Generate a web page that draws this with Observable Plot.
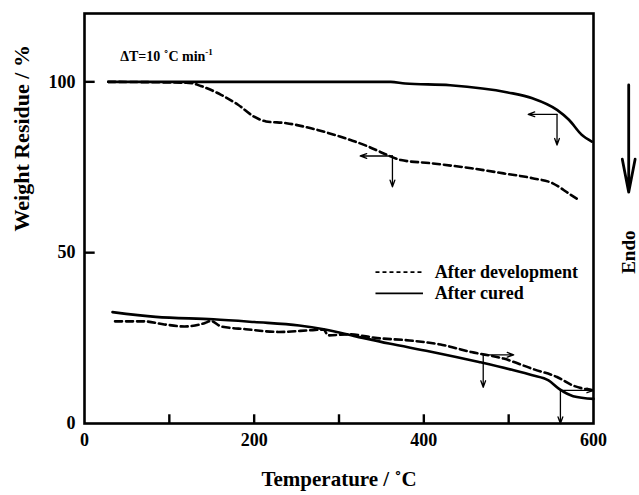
<!DOCTYPE html>
<html><head><meta charset="utf-8">
<script src="https://cdn.jsdelivr.net/npm/d3@7"></script>
<script src="https://cdn.jsdelivr.net/npm/@observablehq/plot@0.6"></script>
<style>body{margin:0;background:#fff} svg{display:block}</style>
</head><body><div id="chart"></div>
<script>
// ---- data ----
// TGA, after cured (solid, upper)
const tgaCuredT = [28, 361, 378, 431, 499, 528, 557, 571, 586, 598];
const tgaCuredW = [100, 100, 99.5, 99.0, 96.9, 95.2, 91.8, 88.9, 84.5, 82.5];
// TGA, after development (dashed, upper)
const tgaDevT = [28, 123, 137, 161, 181, 200, 214, 238, 267, 301, 335, 354, 373, 407, 456, 494, 528, 552, 571, 583];
const tgaDevW = [100, 99.7, 98.8, 96.2, 93.3, 89.8, 88.4, 87.9, 86.4, 84, 81, 78.9, 77.1, 76.2, 74.7, 73.2, 71.8, 70.3, 67.3, 65.4];
// DTA, after cured (solid, lower)
const dtaCuredT = [33, 84, 152, 200, 253, 282, 320, 359, 407, 465, 504, 528, 547, 559, 576, 600];
const dtaCuredW = [32.6, 31.2, 30.5, 29.7, 28.7, 27.6, 25.5, 23.4, 21.1, 18, 15.7, 14.1, 12.6, 10.2, 8.0, 7.2];
// DTA, after development (dashed, lower)
const dtaDevT = [36, 70, 94, 118, 142, 149, 161, 190, 229, 267, 282, 287, 311, 345, 383, 422, 456, 494, 528, 557, 576, 600];
const dtaDevW = [29.9, 29.9, 29.0, 28.4, 29.4, 30, 28.4, 27.6, 26.8, 27.3, 27.5, 25.8, 26.1, 25.0, 24.3, 23.0, 20.9, 19.0, 16.0, 13.6, 11.1, 9.7];
// onset markers: point, horizontal arrow end (T), vertical arrow end (W)
const onsetT = [557, 363, 470, 561];
const onsetW = [90.5, 78.3, 20.1, 9.7];
const onsetArrowT = [523, 325, 506, 600];
const onsetArrowW = [81.5, 69.3, 10.6, 0];
// ticks
const xTickLabels = [0, 200, 400, 600];
const xTickMarks = [100, 200, 300, 400, 500];
const yTickLabels = [0, 50, 100];
const yTickMarks = [50, 100];
// legend
const legendNames = ["After development", "After cured"];
// texts
const xTitle = "Temperature / ˚C";
const yTitle = "Weight Residue / %";
const rateText = "ΔT=10 ˚C min";
const endoText = "Endo";

// ---- build ----
const font = "'Liberation Serif','Times New Roman',serif";
const toRows = (T, W) => T.map((t, i) => ({t, w: W[i]}));
const arrows = [];
onsetT.forEach((t, i) => {
  arrows.push({x1: t, y1: onsetW[i], x2: onsetArrowT[i], y2: onsetW[i]});
  arrows.push({x1: t, y1: onsetW[i], x2: t, y2: onsetArrowW[i]});
});
// layout constants (in scale units)
const legX1 = 343, legX2 = 399, legTx = 413, legY = [44.3, 38.1];
const legRows = legendNames.map((n, i) => ({n, y: legY[i]}));
const xTickLen = 2.7, yTickLen = 12;
const xTickRows = xTickMarks.map(t => ({x1: t, x2: t, y1: 0, y2: xTickLen}));
const yTickRows = yTickMarks.map(w => ({x1: 0, x2: yTickLen, y1: w, y2: w}));

const lineW = 2.6;
const chart = Plot.plot({
  width: 639, height: 495,
  marginLeft: 84, marginRight: 46, marginTop: 13, marginBottom: 72,
  style: {fontFamily: font, fontWeight: "bold", fontSize: "18px", color: "#000", background: "#fff", overflow: "visible"},
  x: {domain: [0, 600]},
  y: {domain: [0, 120]},
  marks: [
    Plot.axisX({ticks: xTickLabels, tickSize: 0, tickPadding: 10, label: null, fontSize: 18}),
    Plot.axisY({ticks: yTickLabels, tickSize: 0, tickPadding: 9, label: null, fontSize: 18}),
    Plot.frame({strokeWidth: 2.6}),
    Plot.link(xTickRows, {x1: "x1", x2: "x2", y1: "y1", y2: "y2", stroke: "#000", strokeWidth: 2.4}),
    Plot.link(yTickRows, {x1: "x1", x2: "x2", y1: "y1", y2: "y2", stroke: "#000", strokeWidth: 2.4}),
    Plot.line(toRows(tgaCuredT, tgaCuredW), {x: "t", y: "w", strokeWidth: lineW, curve: "monotone-x"}),
    Plot.line(toRows(tgaDevT, tgaDevW), {x: "t", y: "w", strokeWidth: lineW, strokeDasharray: "7,4", curve: "monotone-x"}),
    Plot.line(toRows(dtaCuredT, dtaCuredW), {x: "t", y: "w", strokeWidth: lineW, curve: "monotone-x"}),
    Plot.line(toRows(dtaDevT, dtaDevW), {x: "t", y: "w", strokeWidth: lineW, strokeDasharray: "7,4", curve: "monotone-x"}),
    Plot.arrow(arrows, {x1: "x1", y1: "y1", x2: "x2", y2: "y2", strokeWidth: 1.3, headLength: 8, headAngle: 40}),
    Plot.link([legRows[0]], {x1: legX1, x2: legX2, y1: "y", y2: "y", strokeWidth: 1.6, strokeDasharray: "4,3"}),
    Plot.link([legRows[1]], {x1: legX1, x2: legX2, y1: "y", y2: "y", strokeWidth: 1.8}),
    Plot.text(legRows, {x: legTx, y: "y", text: "n", textAnchor: "start", fontSize: 18, fontWeight: "bold"}),
    Plot.text([rateText], {x: 42, y: 107.5, text: d => d, textAnchor: "start", fontSize: 14, fontWeight: "bold", className: "rate"}),
    Plot.text([xTitle], {frameAnchor: "bottom", dy: 62, text: d => d, fontSize: 21}),
    Plot.text([yTitle], {frameAnchor: "left", rotate: -90, dx: -63, dy: 13, text: d => d, fontSize: 22}),
    Plot.text([endoText], {frameAnchor: "right", rotate: -90, dx: 35, dy: 12, text: d => d, fontSize: 19}),
    Plot.arrow([{x1: 641.5, y1: 99.1, x2: 641.5, y2: 67.7}], {x1: "x1", y1: "y1", x2: "x2", y2: "y2", strokeWidth: 2.8, headLength: 18, headAngle: 22})
  ]
});
d3.select(chart).selectAll(".rate text").append("tspan").attr("font-size", 9).attr("dy", -6).text("-1");
document.getElementById("chart").appendChild(chart);
</script>
</body></html>
